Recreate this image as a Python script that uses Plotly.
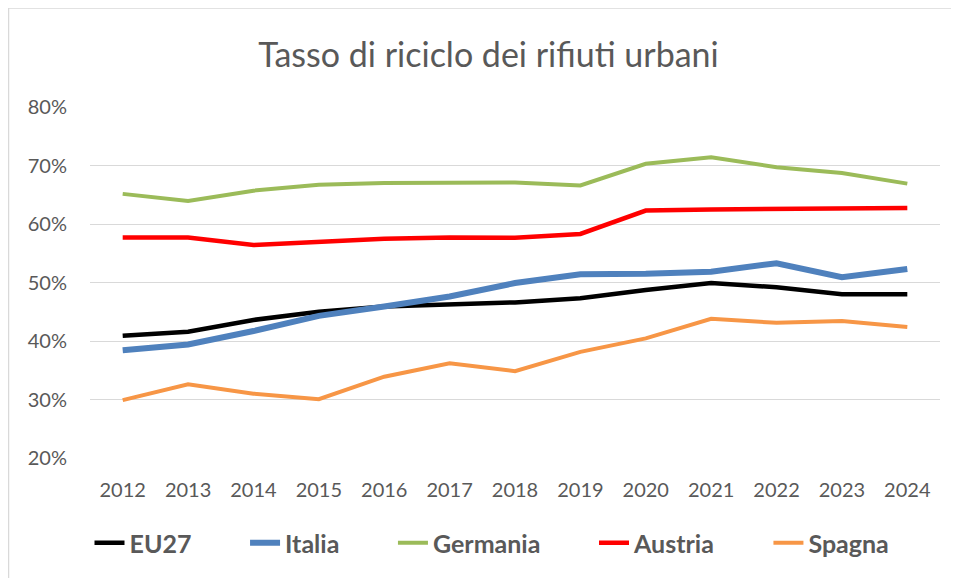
import plotly.graph_objects as go

years = ["2012", "2013", "2014", "2015", "2016", "2017", "2018",
         "2019", "2020", "2021", "2022", "2023", "2024"]

eu27 = [40.9, 41.6, 43.6, 45.0, 45.9, 46.3, 46.6, 47.3, 48.7, 49.9, 49.2, 48.0, 48.0]
italia = [38.4, 39.4, 41.7, 44.3, 45.9, 47.6, 49.9, 51.4, 51.5, 51.85, 53.3, 50.9, 52.3]
germania = [65.15, 63.95, 65.7, 66.7, 67.0, 67.1, 67.1, 66.6, 70.3, 71.4, 69.7, 68.7, 66.9]
austria = [57.7, 57.7, 56.4, 56.9, 57.5, 57.7, 57.65, 58.3, 62.3, 62.5, 62.6, 62.75, 62.75]
spagna = [29.9, 32.6, 31.0, 30.05, 33.9, 36.2, 34.85, 38.15, 40.45, 43.8, 43.1, 43.4, 42.4]

series = [
    ("EU27", eu27, "#000000", 4.5),
    ("Italia", italia, "#4F81BD", 6),
    ("Germania", germania, "#9BBB59", 4),
    ("Austria", austria, "#FF0000", 4.5),
    ("Spagna", spagna, "#F79646", 4),
]

FONT = "Lato"
GRAY = "#595959"
PAD = "\u00a0" * 8

# page body has an 8px margin, so the figure is 951x570 placed at (8, 8)
W, H = 951, 570
OX, OY = 8, 8

fig = go.Figure()
for i, (name, vals, color, w) in enumerate(series):
    label = name + (PAD if i < len(series) - 1 else "")
    fig.add_trace(go.Scatter(
        x=years, y=[v / 100 for v in vals], name=label, mode="lines",
        line=dict(color=color, width=w),
    ))

plot_l, plot_r, plot_t, plot_b = 90 - OX, 940 - OX, 107.3 - OY, 457.7 - OY

fig.update_layout(
    width=W, height=H,
    paper_bgcolor="white", plot_bgcolor="white",
    margin=dict(l=plot_l, r=W - plot_r, t=plot_t, b=H - plot_b),
    font=dict(family=FONT, color=GRAY),
    title=dict(text="Tasso di riciclo dei rifiuti urbani",
               x=(488.5 - OX) / W, xanchor="center", xref="container",
               y=(H - (55 - OY)) / H, yanchor="middle", yref="container",
               font=dict(family=FONT, size=34, color=GRAY)),
    showlegend=True,
    legend=dict(orientation="h", xref="container", yref="container",
                x=(492 - OX) / W, xanchor="center", y=(H - (543 - OY)) / H, yanchor="middle",
                font=dict(family=FONT, size=25, color=GRAY, weight="bold"),
                itemwidth=30, tracegroupgap=0),
    xaxis=dict(type="category", range=[-0.5, 12.5], showgrid=False, showline=False,
               ticks="", tickfont=dict(size=20, color=GRAY), ticklabelstandoff=18,
               zeroline=False),
    yaxis=dict(range=[0.2, 0.8], dtick=0.1, tick0=0.2, tickformat=".0%",
               showgrid=True, gridcolor="#D9D9D9", gridwidth=1, showline=False,
               ticks="", tickfont=dict(size=20, color=GRAY), ticklabelstandoff=22,
               zeroline=False),
)

pw, ph = plot_r - plot_l, plot_b - plot_t
def px(x):
    return (x - plot_l) / pw
def py(y):
    return (plot_b - y) / ph

fig.add_shape(type="line", xref="paper", yref="paper",
              x0=px(0.5), x1=px(W + 5), y0=py(0.5), y1=py(0.5),
              line=dict(color="#D9D9D9", width=1.5))
fig.add_shape(type="line", xref="paper", yref="paper",
              x0=px(0.5), x1=px(0.5), y0=py(H + 5), y1=py(0.5),
              line=dict(color="#D9D9D9", width=1.5))

fig.write_html("out.html")
